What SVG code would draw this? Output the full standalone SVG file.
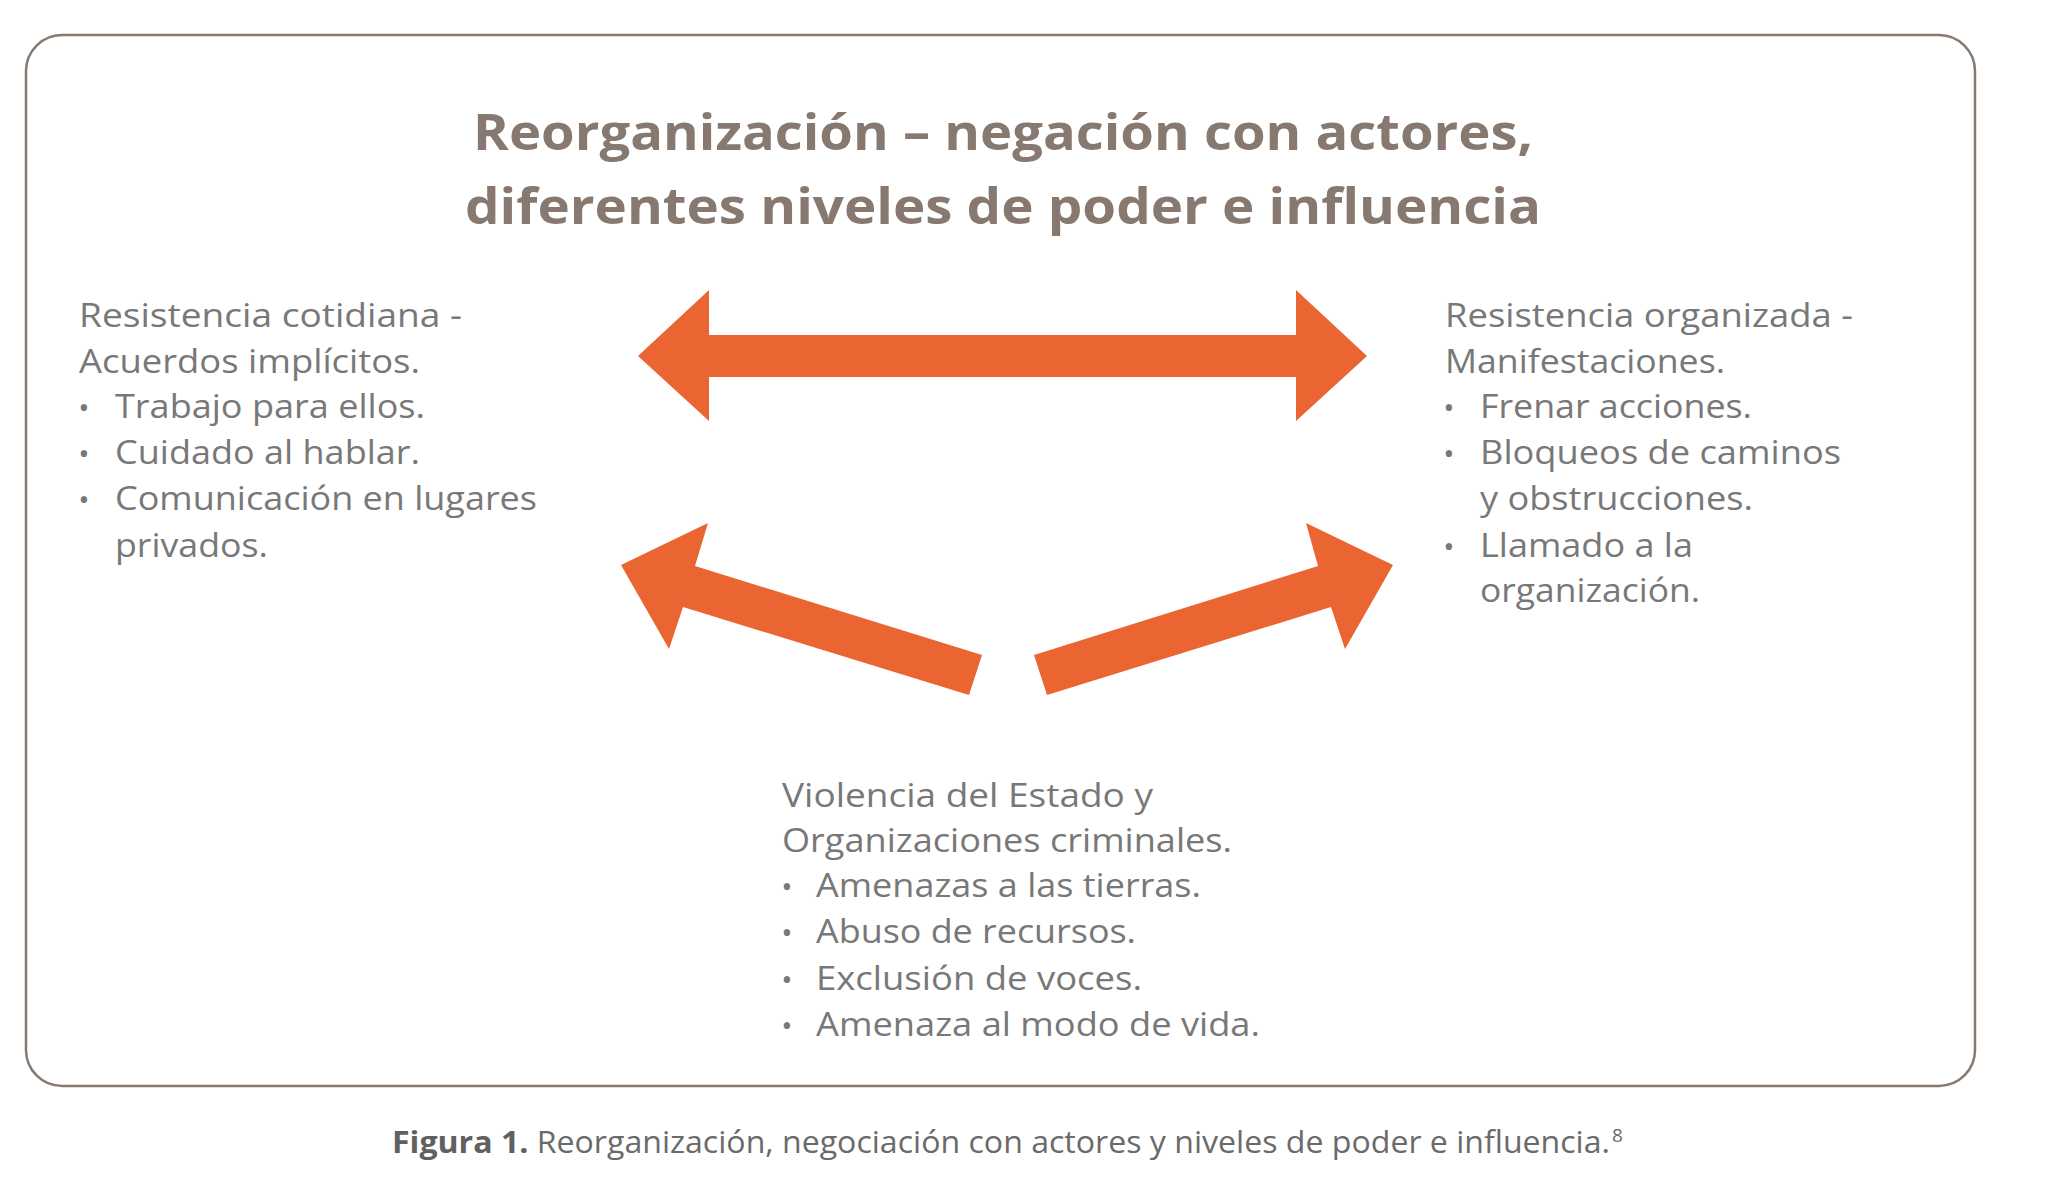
<svg xmlns="http://www.w3.org/2000/svg" width="2051" height="1191" viewBox="0 0 2051 1191">
<style>
.frame{fill:#ffffff;stroke:#857970;stroke-width:2.5}
.title{font-family:"Open Sans","Noto Sans",sans-serif;font-weight:700;font-size:51px;fill:#877970}
.body{font-family:"Open Sans","Noto Sans",sans-serif;font-size:33px;fill:#787878}
.bul{font-family:"Open Sans","Noto Sans",sans-serif;font-size:30px;fill:#787878;text-anchor:middle}
.cap{font-family:"Open Sans","Noto Sans",sans-serif;font-size:31px;fill:#6a6a6a}
.sup{font-family:"Open Sans","Noto Sans",sans-serif;font-size:19px;fill:#6a6a6a}
.arrow{fill:#EA6531}
</style>
<rect width="2051" height="1191" fill="#ffffff"/>
<rect class="frame" x="26" y="35" width="1949" height="1051" rx="36" ry="36"/>

<g id="title">
<text class="title" x="473" y="150" textLength="1060" lengthAdjust="spacingAndGlyphs">Reorganización – negación con actores,</text>
<text class="title" x="465" y="224" textLength="1076" lengthAdjust="spacingAndGlyphs">diferentes niveles de poder e influencia</text>
</g>

<g id="connectors">
<polygon class="arrow" points="638,356 709,290 709,335 1296,335 1296,290 1367,356 1296,421 1296,377 709,377 709,421"/>
<polygon class="arrow" points="621,565 708,523 695,566 982,655 969,695 683,607 669,649"/>
<polygon class="arrow" points="1393,565 1306,523 1318,566 1034,655 1047,695 1331,607 1345,649"/>
</g>

<g id="node-left">
<text class="body" x="79" y="327" textLength="383" lengthAdjust="spacingAndGlyphs">Resistencia cotidiana -</text>
<text class="body" x="79" y="373" textLength="341" lengthAdjust="spacingAndGlyphs">Acuerdos implícitos.</text>
<text class="bul" x="84" y="418">•</text>
<text class="body" x="115" y="418" textLength="310" lengthAdjust="spacingAndGlyphs">Trabajo para ellos.</text>
<text class="bul" x="84" y="464">•</text>
<text class="body" x="115" y="464" textLength="305" lengthAdjust="spacingAndGlyphs">Cuidado al hablar.</text>
<text class="bul" x="84" y="510">•</text>
<text class="body" x="115" y="510" textLength="422" lengthAdjust="spacingAndGlyphs">Comunicación en lugares</text>
<text class="body" x="115" y="557" textLength="153" lengthAdjust="spacingAndGlyphs">privados.</text>
</g>

<g id="node-right">
<text class="body" x="1445" y="327" textLength="408" lengthAdjust="spacingAndGlyphs">Resistencia organizada -</text>
<text class="body" x="1445" y="373" textLength="280" lengthAdjust="spacingAndGlyphs">Manifestaciones.</text>
<text class="bul" x="1449" y="418">•</text>
<text class="body" x="1480" y="418" textLength="272" lengthAdjust="spacingAndGlyphs">Frenar acciones.</text>
<text class="bul" x="1449" y="464">•</text>
<text class="body" x="1480" y="464" textLength="361" lengthAdjust="spacingAndGlyphs">Bloqueos de caminos</text>
<text class="body" x="1480" y="510" textLength="273" lengthAdjust="spacingAndGlyphs">y obstrucciones.</text>
<text class="bul" x="1449" y="557">•</text>
<text class="body" x="1480" y="557" textLength="213" lengthAdjust="spacingAndGlyphs">Llamado a la</text>
<text class="body" x="1480" y="602" textLength="220" lengthAdjust="spacingAndGlyphs">organización.</text>
</g>

<g id="node-bottom">
<text class="body" x="782" y="807" textLength="371" lengthAdjust="spacingAndGlyphs">Violencia del Estado y</text>
<text class="body" x="782" y="852" textLength="450" lengthAdjust="spacingAndGlyphs">Organizaciones criminales.</text>
<text class="bul" x="787" y="897">•</text>
<text class="body" x="816" y="897" textLength="385" lengthAdjust="spacingAndGlyphs">Amenazas a las tierras.</text>
<text class="bul" x="787" y="943">•</text>
<text class="body" x="816" y="943" textLength="320" lengthAdjust="spacingAndGlyphs">Abuso de recursos.</text>
<text class="bul" x="787" y="990">•</text>
<text class="body" x="816" y="990" textLength="326" lengthAdjust="spacingAndGlyphs">Exclusión de voces.</text>
<text class="bul" x="787" y="1036">•</text>
<text class="body" x="816" y="1036" textLength="444" lengthAdjust="spacingAndGlyphs">Amenaza al modo de vida.</text>
</g>

<g id="caption">
<text class="cap" x="392" y="1153" textLength="1218" lengthAdjust="spacingAndGlyphs"><tspan font-weight="700" fill="#606060">Figura 1.</tspan> Reorganización, negociación con actores y niveles de poder e influencia.</text>
<text class="sup" x="1612" y="1142">8</text>
</g>
</svg>
